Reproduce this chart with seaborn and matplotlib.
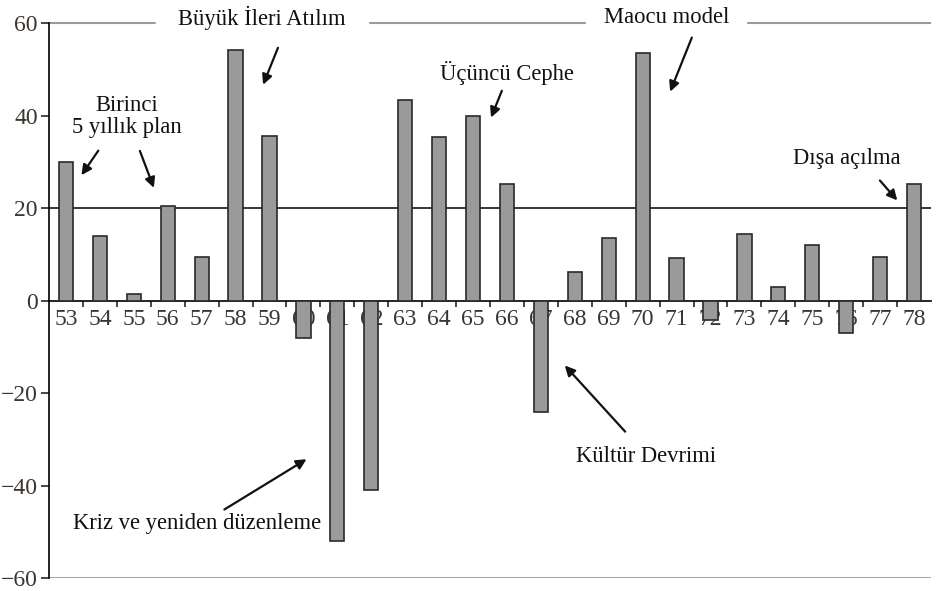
import matplotlib.pyplot as plt
import seaborn as sns
import pandas as pd
from matplotlib.ticker import FixedLocator

# Yearly growth values
years = ['53', '54', '55', '56', '57', '58', '59', '60', '61', '62', '63', '64', '65',
         '66', '67', '68', '69', '70', '71', '72', '73', '74', '75', '76', '77', '78']
growth = [30, 14, 1.5, 20.5, 9.3, 54.2, 35.5, -8, -52, -41, 43.3, 35.3, 40,
          25.1, -24, 6.1, 13.6, 53.5, 9.1, -4.3, 14.3, 3, 12.1, -7, 9.5, 25.1]
y_ticks = [-60, -40, -20, 0, 20, 40, 60]

df = pd.DataFrame({'Year': years, 'Growth': growth})

sns.set_style("white")
plt.rcParams['font.family'] = ['Liberation Serif', 'DejaVu Serif']

fig = plt.figure(figsize=(9.37, 5.91), dpi=100)
ax = fig.add_axes([0.0523, 0.022, 0.9413, 0.9547])

sns.barplot(data=df, x='Year', y='Growth', order=years, color='#9a9a9a',
            saturation=1, edgecolor='#2a2a2a', linewidth=1.2, width=0.42, ax=ax, zorder=3)

ax.set_xlim(-0.5, 25.5)
ax.set_ylim(-60, 62)
ax.set_xlabel('')
ax.set_ylabel('')

# Reference lines
ax.axhline(20, color='black', lw=1.1, zorder=2)
ax.axhline(-60, color='#9a9a9a', lw=2, zorder=1)
# top line broken around the period labels
for x0, x1 in [(-0.5, 2.63), (8.97, 15.3), (20.1, 25.5)]:
    ax.plot([x0, x1], [60, 60], color='#9a9a9a', lw=1.5, zorder=1)

# Spines: left axis and zero line with year labels
for s in ['top', 'right']:
    ax.spines[s].set_visible(False)
ax.spines['bottom'].set_position(('data', 0))
ax.spines['bottom'].set_color('black')
ax.spines['bottom'].set_linewidth(1.2)
ax.spines['left'].set_color('black')
ax.spines['left'].set_linewidth(1.2)
ax.spines['left'].set_bounds(-60, 60)

ax.set_yticks(y_ticks)
ax.tick_params(axis='y', direction='out', length=6, width=1.2, left=True,
               labelsize=17, labelcolor='#3a3530', pad=2)
ax.tick_params(axis='x', which='major', length=0, labelsize=17,
               labelcolor='#3a3530', pad=6)
ax.xaxis.set_minor_locator(FixedLocator([i + 0.5 for i in range(25)]))
ax.tick_params(axis='x', which='minor', direction='out', length=4, width=1.2, bottom=True)

# Annotations
txt = dict(fontsize=16.3, color='#111111', ha='center', va='center', zorder=5)
arr = dict(arrowstyle='-|>', color='#111111', lw=1.6, mutation_scale=15)

ax.text(5.78, 61.2, 'Büyük İleri Atılım', **txt)
ax.text(17.72, 61.2, 'Maocu model', **txt)
ax.text(1.8, 39.8, 'Birinci\n5 yıllık plan', linespacing=1.1, **txt)
ax.text(13.0, 49.1, 'Üçüncü Cephe', **txt)
ax.text(23.02, 30.7, 'Dışa açılma', **txt)
ax.text(3.86, -48.3, 'Kriz ve yeniden düzenleme', **txt)
ax.text(17.1, -33.8, 'Kültür Devrimi', **txt)

ax.annotate('', xy=(0.41, 26.6), xytext=(1.0, 32.9), arrowprops=arr)
ax.annotate('', xy=(2.62, 23.8), xytext=(2.15, 32.9), arrowprops=arr)
ax.annotate('', xy=(5.78, 46.1), xytext=(6.28, 55.2), arrowprops=arr)
ax.annotate('', xy=(12.5, 39.0), xytext=(12.88, 45.9), arrowprops=arr)
ax.annotate('', xy=(17.78, 44.6), xytext=(18.48, 57.4), arrowprops=arr)
ax.annotate('', xy=(24.56, 21.2), xytext=(23.94, 26.4), arrowprops=arr)
ax.annotate('', xy=(7.16, -34.0), xytext=(4.6, -45.5), arrowprops=arr)
ax.annotate('', xy=(14.65, -13.6), xytext=(16.54, -28.8), arrowprops=arr)

fig.savefig('out.png', dpi=100)
